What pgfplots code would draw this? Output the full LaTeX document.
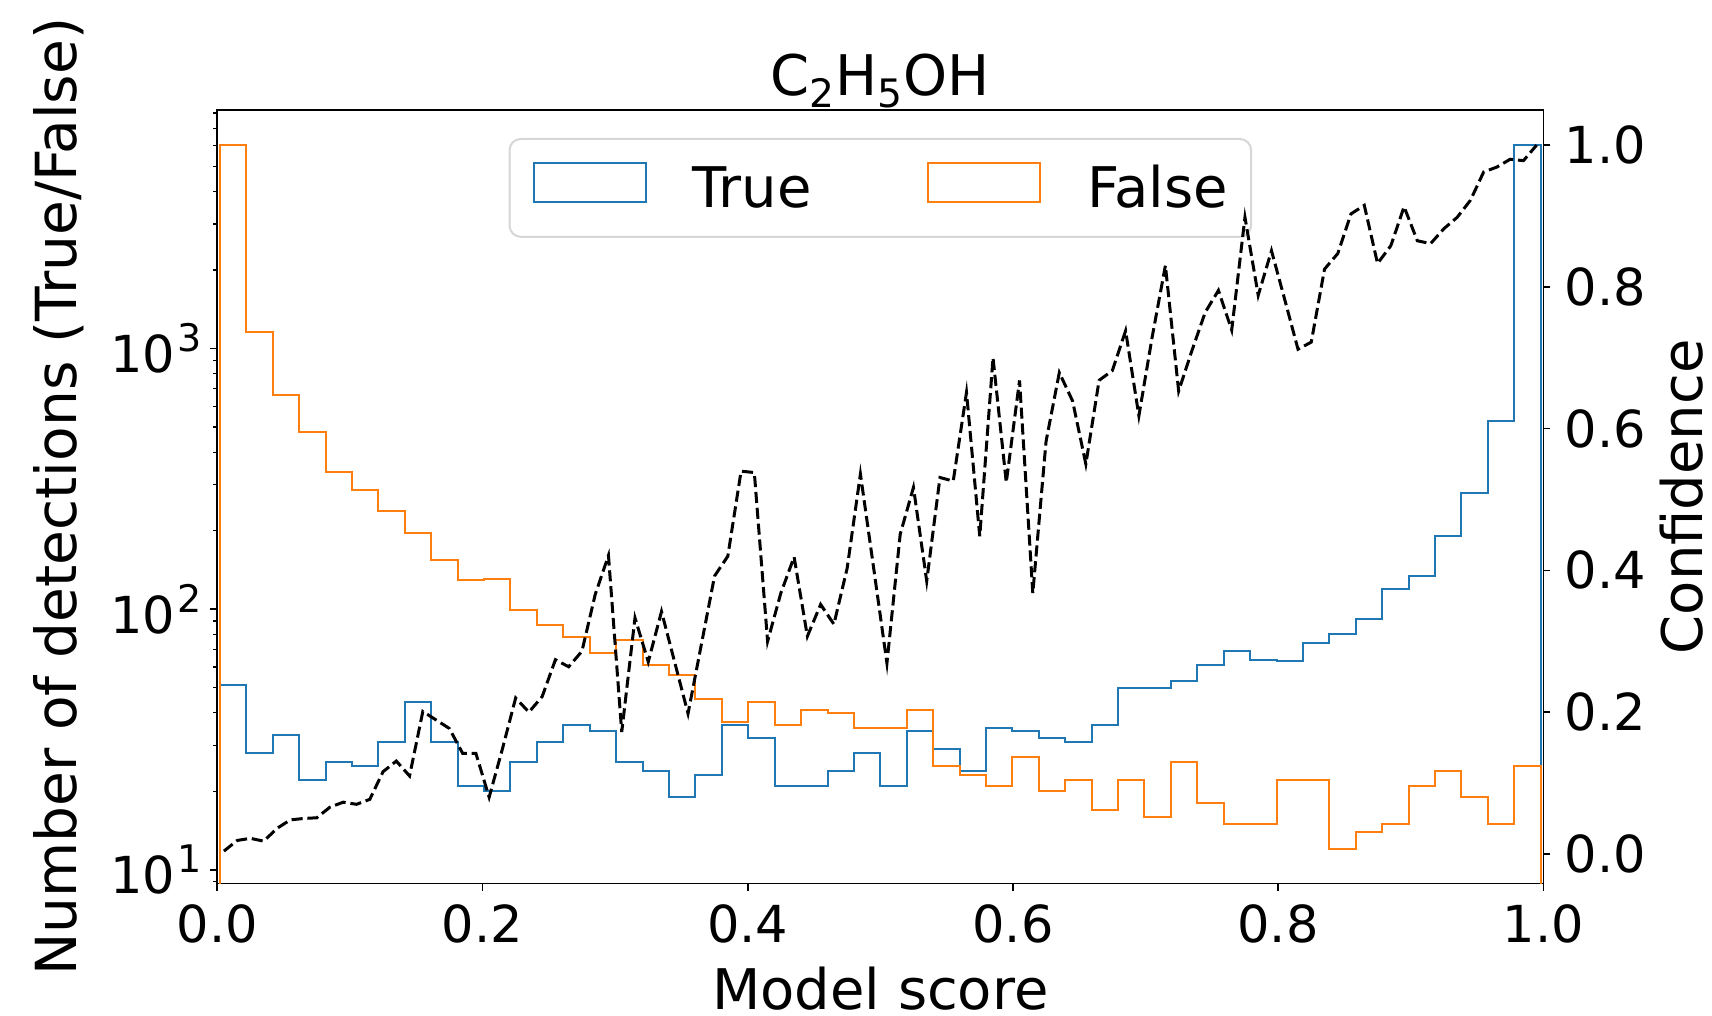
\documentclass[border=0pt]{standalone}
\usepackage{fontspec}
\setmainfont{DejaVu Sans}
\usepackage{pgfplots}
\usepackage{pgfplotstable}
\pgfplotsset{compat=1.18}

\definecolor{tabblue}{HTML}{1F77B4}
\definecolor{taborange}{HTML}{FF7F0E}
\definecolor{legendedge}{HTML}{D6D6D6}

\newcommand{\bigfont}{\fontsize{28}{34}\selectfont}
\newcommand{\decade}[1]{10\kern1.2pt\raisebox{0.42em}{\fontsize{19}{22}\selectfont #1}}

% Histogram outline: 50 bins between 0.002 and 0.998 (left edges + closing rows)
\pgfplotstableread{
edge   true  false
0.0020 1     1
0.0020 51    6050
0.0219 28    1155
0.0418 33    664
0.0618 22    477
0.0817 26    335
0.1016 25    287
0.1215 31    237
0.1414 44    195
0.1614 31    154
0.1813 21    129
0.2012 20    131
0.2211 26    99
0.2410 31    87
0.2610 36    78
0.2809 34    68
0.3008 26    76
0.3207 24    61
0.3406 19    56
0.3606 23    45
0.3805 36    37
0.4004 32    44
0.4203 21    36
0.4402 21    41
0.4602 24    40
0.4801 28    35
0.5000 21    35
0.5199 34    41
0.5398 29    25
0.5598 24    23
0.5797 35    21
0.5996 34    27
0.6195 32    20
0.6394 31    22
0.6594 36    17
0.6793 50    22
0.6992 50    16
0.7191 53    26
0.7390 61    18
0.7590 69    15
0.7789 64    15
0.7988 63    22
0.8187 74    22
0.8386 80    12
0.8586 92    14
0.8785 119   15
0.8984 134   21
0.9183 191   24
0.9382 279   19
0.9582 525   15
0.9781 6050  25
0.9980 6050  25
0.9980 1     1
}\hist

% Confidence per 0.01-wide score bin
\pgfplotstableread{
x     c
0.005 0.004
0.015 0.019
0.025 0.022
0.035 0.018
0.045 0.036
0.055 0.048
0.065 0.050
0.075 0.051
0.085 0.066
0.095 0.073
0.105 0.070
0.115 0.077
0.125 0.116
0.135 0.131
0.145 0.110
0.155 0.201
0.165 0.189
0.175 0.177
0.185 0.142
0.195 0.142
0.205 0.080
0.215 0.148
0.225 0.220
0.235 0.200
0.245 0.222
0.255 0.274
0.265 0.264
0.275 0.286
0.285 0.366
0.295 0.421
0.305 0.172
0.315 0.333
0.325 0.271
0.335 0.342
0.345 0.270
0.355 0.198
0.365 0.295
0.375 0.392
0.385 0.420
0.395 0.540
0.405 0.538
0.415 0.300
0.425 0.368
0.435 0.419
0.445 0.307
0.455 0.352
0.465 0.324
0.475 0.403
0.485 0.536
0.495 0.403
0.505 0.269
0.515 0.451
0.525 0.517
0.535 0.385
0.545 0.531
0.555 0.526
0.565 0.651
0.575 0.448
0.585 0.700
0.595 0.524
0.605 0.668
0.615 0.368
0.625 0.582
0.635 0.679
0.645 0.639
0.655 0.550
0.665 0.668
0.675 0.682
0.685 0.738
0.695 0.618
0.705 0.729
0.715 0.830
0.725 0.653
0.735 0.710
0.745 0.764
0.755 0.795
0.765 0.739
0.775 0.898
0.785 0.788
0.795 0.851
0.805 0.782
0.815 0.712
0.825 0.722
0.835 0.825
0.845 0.847
0.855 0.903
0.865 0.915
0.875 0.833
0.885 0.858
0.895 0.913
0.905 0.865
0.915 0.861
0.925 0.882
0.935 0.898
0.945 0.922
0.955 0.962
0.965 0.969
0.975 0.980
0.985 0.978
0.995 1.000
}\conf

\pgfplotsset{
  common/.style={
    at={(0pt,0pt)}, anchor=south west,
    scale only axis, width=663pt, height=386.85pt,
    xmin=0, xmax=1,
    tick align=outside,
    major tick length=3.5pt, minor tick length=2pt,
    every major tick/.append style={line width=0.8pt, black},
    every minor tick/.append style={line width=0.6pt, black},
    axis line style={line width=0.8pt},
    tick label style={font=\fontsize{25.5}{30}\selectfont},
  },
}

\begin{document}
\begin{tikzpicture}
\path[use as bounding box] (-108.65pt,-66.15pt) rectangle (747.35pt,441.85pt);

\begin{axis}[
  common,
  ymode=log, ymin=8.84, ymax=8220,
  xtick={0,0.2,0.4,0.6,0.8,1},
  xticklabels={0.0,0.2,0.4,0.6,0.8,1.0},
  ytick={10,100,1000},
  yticklabels={\decade{1},\decade{2},\decade{3}},
  minor ytick={9,20,30,40,50,60,70,80,90,200,300,400,500,600,700,800,900,2000,3000,4000,5000,6000,7000,8000},
  xtick pos=bottom, ytick pos=left,
  xticklabel style={anchor=base, inner sep=0pt, yshift=-26pt},
  yticklabel style={anchor=east, inner sep=0pt, xshift=-4pt},
  every axis x label/.style={at={(axis description cs:0.5,-0.1620)}, anchor=base, inner sep=0pt, font=\bigfont},
  every axis y label/.style={at={(axis description cs:-0.10600,0.5)}, rotate=90, anchor=base, inner sep=0pt, font=\fontsize{28.3}{34}\selectfont},
  every axis title/.style={at={(axis description cs:0.5,1.0181)}, anchor=base, inner sep=0pt, font=\bigfont},
  title={C\textsubscript{2}H\textsubscript{5}OH},
  xlabel={Model score},
  ylabel={Number of detections (True/False)},
  legend columns=2,
  legend style={
    at={(axis description cs:0.5,1)}, anchor=north, yshift=-14pt,
    draw=legendedge, line width=1pt, rounded corners=5.6pt,
    fill=white, fill opacity=0.8, text opacity=1,
    font=\bigfont,
    inner xsep=11.5pt, inner ysep=11.6pt,
    nodes={inner sep=0pt, text height=21.3pt, text depth=0pt},
    /tikz/every odd column/.append style={column sep=23pt},
    /tikz/every even column/.append style={column sep=58pt},
  },
  legend image code/.code={
    \draw[#1, sharp corners, solid, line width=1pt] (0pt,-8.3pt) rectangle (56pt,11.3pt);
    \path (0pt,-13.4pt);
  },
]
\addplot[tabblue, line width=1pt, const plot mark left] table[x=edge, y=true] {\hist};
\addlegendentry{True}
\addplot[taborange, line width=1pt, const plot mark left] table[x=edge, y=false] {\hist};
\addlegendentry{False}
\end{axis}

\begin{axis}[
  common,
  ymin=-0.042, ymax=1.0495,
  axis y line*=right, axis x line=none,
  ytick={0,0.2,0.4,0.6,0.8,1},
  yticklabels={0.0,0.2,0.4,0.6,0.8,1.0},
  yticklabel style={anchor=west, inner sep=0pt, xshift=7pt},
  every axis y label/.style={at={(axis description cs:1.1200,0.5)}, rotate=90, anchor=base, inner sep=0pt, font=\bigfont},
  ylabel={Confidence},
]
\addplot[black, line width=1.5pt, dash pattern=on 5.55pt off 2.4pt] table[x=x, y=c] {\conf};
\end{axis}
\end{tikzpicture}
\end{document}
